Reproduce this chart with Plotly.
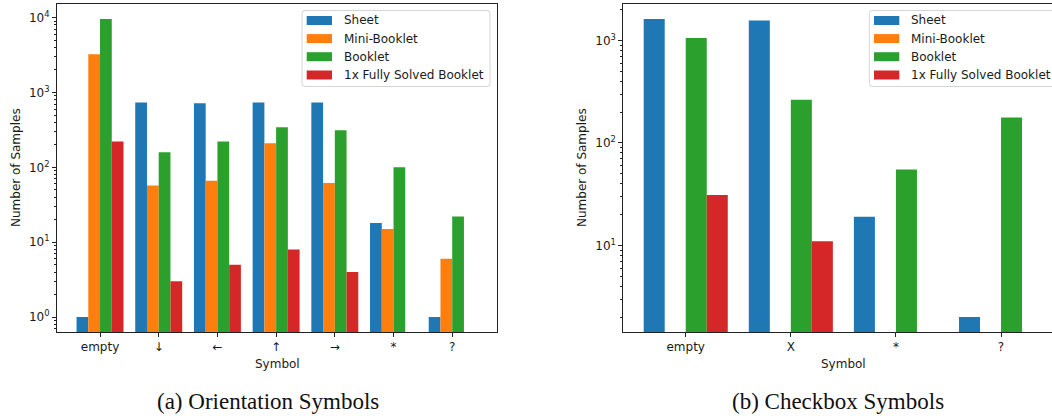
import math
import plotly.graph_objects as go

# ---- data -------------------------------------------------------------
series_names = ["Sheet", "Mini-Booklet", "Booklet", "1x Fully Solved Booklet"]
series_colors = ["#1f77b4", "#ff7f0e", "#2ca02c", "#d62728"]

orientation_symbols = ["empty", "↓", "←", "↑", "→", "*", "?"]
orientation_sheet = [1, 735, 720, 735, 735, 18, 1]
orientation_mini = [3230, 57, 66, 210, 62, 15, 6]
orientation_booklet = [9600, 159, 222, 343, 313, 100, 22]
orientation_solved = [222, 3, 5, 8, 4, 0, 0]

checkbox_symbols = ["empty", "X", "*", "?"]
checkbox_sheet = [1620, 1560, 19, 2]
checkbox_mini = [0, 0, 0, 0]
checkbox_booklet = [1056, 264, 55, 177]
checkbox_solved = [31, 11, 0, 0]

captions = ["(a) Orientation Symbols", "(b) Checkbox Symbols"]
y_tick_vals = [1, 10, 100, 1000, 10000]
y_tick_text = ["10<sup>0</sup>", "10<sup>1</sup>", "10<sup>2</sup>", "10<sup>3</sup>", "10<sup>4</sup>"]

# ---- page geometry (pixels) -------------------------------------------
W, H = 1052, 416
TEXT = "#1a1a1a"
FONT = "DejaVu Sans"


def px(x):
    return x / W


def py(y):
    return 1 - y / H


bar_w = 0.2
offsets = [-0.4, -0.2, 0.0, 0.2]


def log_range(*series):
    vals = [v for s in series for v in s if v > 0]
    lo, hi = math.log10(min(vals)), math.log10(max(vals))
    m = 0.05 * (hi - lo)
    return [lo - m, hi + m]


def positive(vals):
    return [v if v > 0 else None for v in vals]


fig = go.Figure()

panels = [
    ("x", "y", orientation_symbols,
     [orientation_sheet, orientation_mini, orientation_booklet, orientation_solved]),
    ("x2", "y2", checkbox_symbols,
     [checkbox_sheet, checkbox_mini, checkbox_booklet, checkbox_solved]),
]

for xa, ya, cats, series in panels:
    for name, color, off, vals in zip(series_names, series_colors, offsets, series):
        fig.add_trace(go.Bar(
            x=cats, y=positive(vals), name=name,
            marker=dict(color=color, line=dict(width=0)),
            width=bar_w, offset=off, xaxis=xa, yaxis=ya,
            showlegend=False,
        ))

left_dom = [px(57), px(497)]
right_dom = [px(623.3), 1.0]
y_dom = [py(332), py(4)]

axis_common = dict(
    showline=True, linecolor="#222", linewidth=1,
    ticks="outside", ticklen=4, tickwidth=1, tickcolor="#222",
    showgrid=False, zeroline=False,
    tickfont=dict(family=FONT, size=12, color=TEXT),
)
minor = dict(ticks="outside", ticklen=2.4, tickwidth=0.8, tickcolor="#222",
             dtick="D1", showgrid=False)

fig.update_layout(
    width=W, height=H,
    margin=dict(l=0, r=0, t=0, b=0),
    paper_bgcolor="white", plot_bgcolor="white",
    barmode="overlay",
    xaxis=dict(domain=left_dom, range=[-0.733, 6.763], anchor="y",
               mirror=True, type="category", **axis_common),
    yaxis=dict(domain=y_dom, type="log",
               range=log_range(orientation_sheet, orientation_mini,
                               orientation_booklet, orientation_solved),
               tickmode="array", tickvals=y_tick_vals, ticktext=y_tick_text,
               mirror=True, anchor="x", minor=minor, **axis_common),
    xaxis2=dict(domain=right_dom, range=[-0.594, -0.594 + (W - 623.3) / 105.1],
                anchor="y2", mirror=True, type="category", **axis_common),
    yaxis2=dict(domain=y_dom, type="log",
                range=log_range(checkbox_sheet, checkbox_booklet, checkbox_solved),
                tickmode="array", tickvals=y_tick_vals, ticktext=y_tick_text,
                mirror=False, anchor="x2", minor=minor, **axis_common),
)

annotations = []
shapes = []

# axis titles
for cx, lx in [(277, 16), (843, 582)]:
    annotations.append(dict(
        text="Symbol", x=px(cx), y=py(363.5), xref="paper", yref="paper",
        showarrow=False, xanchor="center", yanchor="middle",
        font=dict(family=FONT, size=12, color=TEXT)))
    annotations.append(dict(
        text="Number of Samples", x=px(lx), y=py(168), xref="paper", yref="paper",
        showarrow=False, xanchor="center", yanchor="middle", textangle=-90,
        font=dict(family=FONT, size=12, color=TEXT)))

# captions under each panel
for cx, cap in zip([268, 838], captions):
    annotations.append(dict(
        text=cap, x=px(cx), y=py(401), xref="paper", yref="paper",
        showarrow=False, xanchor="center", yanchor="middle",
        font=dict(family="Liberation Serif", size=23, color="#111")))


def rounded_box(x0, y0, x1, y1, r=3):
    X0, X1 = px(x0), px(x1)
    Y0, Y1 = py(y0), py(y1)
    rx, ry = r / W, r / H
    return (f"M {X0 + rx},{Y0} L {X1 - rx},{Y0} Q {X1},{Y0} {X1},{Y0 - ry} "
            f"L {X1},{Y1 + ry} Q {X1},{Y1} {X1 - rx},{Y1} "
            f"L {X0 + rx},{Y1} Q {X0},{Y1} {X0},{Y1 + ry} "
            f"L {X0},{Y0 - ry} Q {X0},{Y0} {X0 + rx},{Y0} Z")


# legends drawn in each panel's upper right corner
row_y = [20.5, 38.6, 56.7, 75.0]
for bx0, bx1, patch_x0, text_x in [(302, 490, 306.7, 342), (869.3, 1060, 874, 909)]:
    shapes.append(dict(type="path", path=rounded_box(bx0, 10.5, bx1, 86.5),
                       xref="paper", yref="paper",
                       fillcolor="rgba(255,255,255,0.8)",
                       line=dict(color="#d4d4d4", width=1)))
    for ry, name, color in zip(row_y, series_names, series_colors):
        shapes.append(dict(type="rect", xref="paper", yref="paper",
                           x0=px(patch_x0), x1=px(patch_x0 + 25.3),
                           y0=py(ry + 4.5), y1=py(ry - 4.5),
                           fillcolor=color, line=dict(width=0)))
        annotations.append(dict(
            text=name, x=px(text_x), y=py(ry), xref="paper", yref="paper",
            showarrow=False, xanchor="left", yanchor="middle",
            font=dict(family=FONT, size=12, color=TEXT)))

fig.update_layout(annotations=annotations, shapes=shapes)

fig.write_html("out.html")
